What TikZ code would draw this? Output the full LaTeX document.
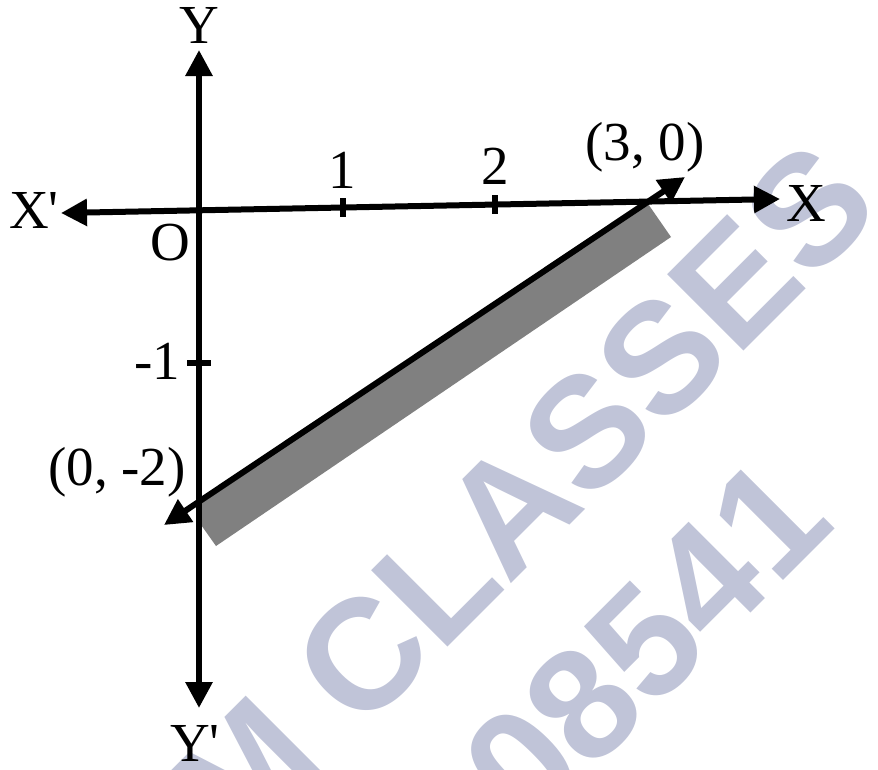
\documentclass[tikz,border=0pt]{standalone}
\usepackage{fontspec}
\setmainfont{Liberation Serif}
\newfontfamily\wmfont{Liberation Sans}
\usetikzlibrary{arrows.meta, calc}
\definecolor{wmblue}{RGB}{192,196,216}
\definecolor{bandgray}{RGB}{128,128,128}

\begin{document}
\begin{tikzpicture}[
  x=1pt, y=-1pt,
  every node/.style={font=\fontsize{55}{60}\selectfont, inner sep=0pt},
  bothtips/.style={line width=6pt, {Triangle[length=26pt,width=26pt]}-{Triangle[length=26pt,width=26pt]}},
  tickmark/.style={line width=6pt},
  wmtext/.style={font=\wmfont\bfseries\fontsize{157}{160}\selectfont, text=wmblue, rotate=45}
]
  \useasboundingbox (0,0) rectangle (878,769);

  % watermark
  \begin{scope}
    \clip (0,0) rectangle (878,769);
    \node[wmtext, anchor=base east] (wm1) at (885,210) {M CLASSES};
    \node[wmtext, anchor=base east] (wm2) at (838,526) {08541};
  \end{scope}

  % axis and line end points
  \coordinate (xl) at (61,213);
  \coordinate (xr) at (780,199);
  \coordinate (yt) at (199,50);
  \coordinate (yb) at (199,708);
  \coordinate (P) at (685,177);
  \coordinate (Q) at (164,525);

  % shaded side of the line
  \fill[bandgray] (647,202.4) -- (671,237) -- (216,546) -- (199,522) -- (199,501.6) -- cycle;

  % axes
  \draw[bothtips] (xl) -- (xr);
  \draw[bothtips] (yt) -- (yb);

  % ticks
  \draw[tickmark] (343,198) -- (343,217);
  \draw[tickmark] (495,195) -- (495,214);
  \draw[tickmark] (187,363) -- (211,363);

  % the line through (3, 0) and (0, -2)
  \draw[bothtips] (Q) -- (P);

  % labels
  \node (lblY) at (199,25) {Y};
  \node (lblYp) at (195,743) {Y\textquotesingle};
  \node (lblX) at (806,203) {X};
  \node (lblXp) at (34,210) {X\textquotesingle};
  \node (lblO) at (170,243) {O};
  \node (lbl1) at (342,170) {1};
  \node (lbl2) at (495,166) {2};
  \node (lblm1) at (157,361) {-1};
  \node (lblP) at (645,147) {(3, 0)};
  \node (lblQ) at (117,472) {(0, -2)};
\end{tikzpicture}
\end{document}
